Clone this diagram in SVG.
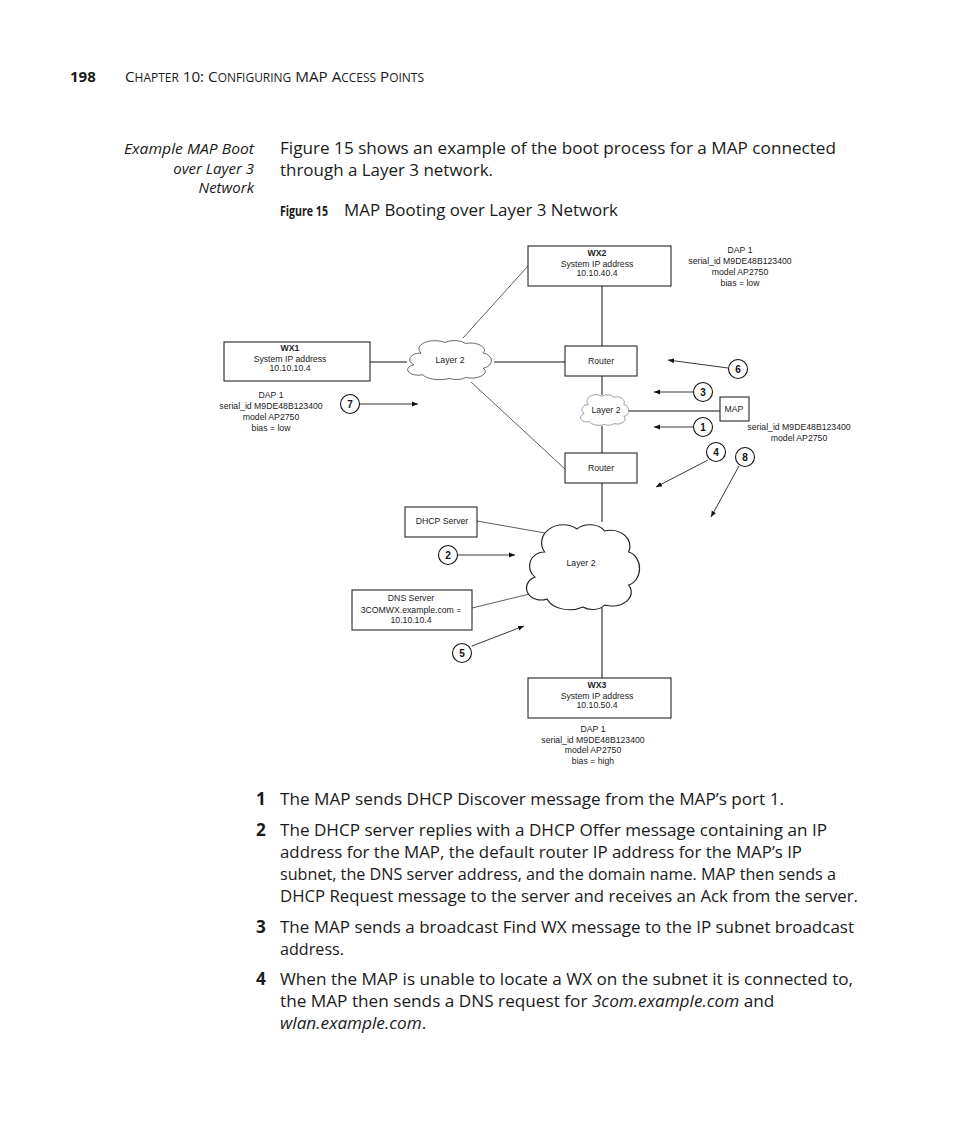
<svg xmlns="http://www.w3.org/2000/svg" width="954" height="1145" viewBox="0 0 954 1145">
<style>
.pg{font-family:"Open Sans","Noto Sans",sans-serif;fill:#1a1a1a}
.body{font-size:17.2px}
.d{font-family:"Liberation Sans",Arial,sans-serif;font-size:8.7px;fill:#222;text-anchor:middle}
.b{font-weight:bold}
.box{fill:#fff;stroke:#111;stroke-width:1}
.ln{stroke:#111;stroke-width:1;fill:none}
.ln2{stroke:#333;stroke-width:0.8;fill:none}
.cloud{fill:#fff;stroke:#222;stroke-width:1}
.circ{fill:#fff;stroke:#111;stroke-width:1.1}
.num{font-family:"Liberation Sans",Arial,sans-serif;font-size:10px;font-weight:bold;text-anchor:middle;fill:#111}
.arr{stroke:#222;stroke-width:0.9;fill:none;marker-end:url(#ah)}
</style>
<defs>
<marker id="ah" viewBox="0 0 10 10" refX="10" refY="5" markerWidth="6" markerHeight="6" orient="auto" markerUnits="userSpaceOnUse"><path d="M0,1 L10,5 L0,9 z" fill="#111"/></marker>
<path id="cl" d="M10,60 A12,14 0 0 1 18,35 A18,18 0 0 1 45,12 A14,12 0 0 1 68,14 A16,16 0 0 1 88,35 A12,17 0 0 1 88,68 A16,14 0 0 1 68,88 A12,10 0 0 1 50,90 A20,16 0 0 1 20,82 A12,12 0 0 1 10,60 Z"/>
</defs>
<rect width="954" height="1145" fill="#fff"/>

<g id="header">
<text class="pg b" x="70" y="82" font-size="15">198</text>
<text class="pg" x="125" y="82" font-size="15" textLength="299" lengthAdjust="spacingAndGlyphs">C<tspan font-size="11.8">HAPTER</tspan> 10: C<tspan font-size="11.8">ONFIGURING</tspan> MAP A<tspan font-size="11.8">CCESS</tspan> P<tspan font-size="11.8">OINTS</tspan></text>
</g>

<g id="sidehead" font-style="italic" text-anchor="end">
<text class="pg" x="254" y="154" font-size="15" textLength="130" lengthAdjust="spacingAndGlyphs">Example MAP Boot</text>
<text class="pg" x="254" y="174" font-size="15">over Layer 3</text>
<text class="pg" x="254" y="193" font-size="15">Network</text>
</g>

<g id="intro">
<text class="pg body" x="280" y="154" textLength="556" lengthAdjust="spacingAndGlyphs">Figure 15 shows an example of the boot process for a MAP connected</text>
<text class="pg body" x="280" y="176" textLength="213" lengthAdjust="spacingAndGlyphs">through a Layer 3 network.</text>
<text class="pg b" x="280" y="216" font-size="14" textLength="48" lengthAdjust="spacingAndGlyphs">Figure 15</text>
<text class="pg" x="344" y="216" font-size="15.5" textLength="274" lengthAdjust="spacingAndGlyphs">MAP Booting over Layer 3 Network</text>
</g>

<g id="connectors">
<line class="ln" x1="370" y1="362" x2="407" y2="362"/>
<line class="ln" x1="494" y1="362" x2="565" y2="362"/>
<line class="ln2" x1="463" y1="338" x2="528" y2="266"/>
<line class="ln" x1="602" y1="286" x2="602" y2="346"/>
<line class="ln" x1="602" y1="376" x2="602" y2="395"/>
<line class="ln" x1="629" y1="411" x2="720" y2="411"/>
<line class="ln" x1="602" y1="426" x2="602" y2="453"/>
<line class="ln2" x1="471" y1="382" x2="565" y2="469"/>
<line class="ln" x1="602" y1="483" x2="602" y2="522"/>
<line class="ln" x1="602" y1="605" x2="602" y2="678"/>
<line class="ln2" x1="477" y1="521" x2="545" y2="533"/>
<line class="ln2" x1="472" y1="608" x2="542" y2="591"/>
<line class="arr" x1="360" y1="404" x2="418" y2="404"/>
<line class="arr" x1="728" y1="368" x2="668" y2="360"/>
<line class="arr" x1="693" y1="392" x2="654" y2="392"/>
<line class="arr" x1="693" y1="427" x2="654" y2="427"/>
<line class="arr" x1="708" y1="460" x2="656" y2="487"/>
<line class="arr" x1="739" y1="466" x2="711" y2="517"/>
<line class="arr" x1="458" y1="555" x2="515" y2="555"/>
<line class="arr" x1="472" y1="646" x2="524" y2="626"/>
</g>

<g id="wx2">
<rect class="box" x="528" y="246" width="143" height="40"/>
<text class="d b" x="597" y="256">WX2</text>
<text class="d" x="597" y="267">System IP address</text>
<text class="d" x="597" y="276">10.10.40.4</text>
</g>
<g id="dap-wx2">
<text class="d" x="740" y="253">DAP 1</text>
<text class="d" x="740" y="264">serial_id M9DE48B123400</text>
<text class="d" x="740" y="275">model AP2750</text>
<text class="d" x="740" y="286">bias = low</text>
</g>

<g id="wx1">
<rect class="box" x="224" y="342" width="146" height="39"/>
<text class="d b" x="290" y="351">WX1</text>
<text class="d" x="290" y="362">System IP address</text>
<text class="d" x="290" y="371">10.10.10.4</text>
</g>
<g id="dap-wx1">
<text class="d" x="271" y="398">DAP 1</text>
<text class="d" x="271" y="409">serial_id M9DE48B123400</text>
<text class="d" x="271" y="420">model AP2750</text>
<text class="d" x="271" y="431">bias = low</text>
</g>

<g id="cloud-top">
<use href="#cl" class="cloud" vector-effect="non-scaling-stroke" transform="translate(405,337) scale(0.89,0.46)"/>
<text class="d" x="450" y="363">Layer 2</text>
</g>

<g id="router1">
<rect class="box" x="565" y="346" width="72" height="30"/>
<text class="d" x="601" y="364">Router</text>
</g>

<g id="cloud-small">
<use href="#cl" class="cloud" vector-effect="non-scaling-stroke" transform="translate(579,392) scale(0.51,0.36)"/>
<text class="d" x="606" y="413">Layer 2</text>
</g>

<g id="map">
<rect class="box" x="720" y="397" width="29" height="24"/>
<text class="d" x="734" y="412">MAP</text>
<text class="d" x="799" y="430">serial_id M9DE48B123400</text>
<text class="d" x="799" y="441">model AP2750</text>
</g>

<g id="router2">
<rect class="box" x="565" y="453" width="72" height="30"/>
<text class="d" x="601" y="471">Router</text>
</g>

<g id="cloud-big">
<use href="#cl" class="cloud" vector-effect="non-scaling-stroke" transform="translate(523,517) scale(1.2,1.0)"/>
<text class="d" x="581" y="566">Layer 2</text>
</g>

<g id="dhcp">
<rect class="box" x="405" y="507" width="72" height="30"/>
<text class="d" x="442" y="524">DHCP Server</text>
</g>

<g id="dns">
<rect class="box" x="352" y="590" width="120" height="40"/>
<text class="d" x="411" y="601">DNS Server</text>
<text class="d" x="411" y="613">3COMWX.example.com =</text>
<text class="d" x="411" y="623">10.10.10.4</text>
</g>

<g id="wx3">
<rect class="box" x="528" y="678" width="143" height="40"/>
<text class="d b" x="597" y="688">WX3</text>
<text class="d" x="597" y="699">System IP address</text>
<text class="d" x="597" y="708">10.10.50.4</text>
</g>
<g id="dap-wx3">
<text class="d" x="593" y="732">DAP 1</text>
<text class="d" x="593" y="743">serial_id M9DE48B123400</text>
<text class="d" x="593" y="753">model AP2750</text>
<text class="d" x="593" y="764">bias = high</text>
</g>

<g id="step7"><circle class="circ" cx="350" cy="404" r="9.5"/><text class="num" x="350" y="408">7</text></g>
<g id="step6"><circle class="circ" cx="738" cy="369" r="9.5"/><text class="num" x="738" y="373">6</text></g>
<g id="step3"><circle class="circ" cx="703" cy="392" r="9.5"/><text class="num" x="703" y="396">3</text></g>
<g id="step1"><circle class="circ" cx="703" cy="427" r="9.5"/><text class="num" x="703" y="431">1</text></g>
<g id="step4"><circle class="circ" cx="716" cy="452" r="9.5"/><text class="num" x="716" y="456">4</text></g>
<g id="step8"><circle class="circ" cx="745" cy="457" r="9.5"/><text class="num" x="745" y="461">8</text></g>
<g id="step2"><circle class="circ" cx="448" cy="555" r="9.5"/><text class="num" x="448" y="559">2</text></g>
<g id="step5"><circle class="circ" cx="462" cy="653" r="9.5"/><text class="num" x="462" y="657">5</text></g>

<g id="steps">
<text class="pg body b" x="256" y="805">1</text>
<text class="pg body" x="280" y="805" textLength="504" lengthAdjust="spacingAndGlyphs">The MAP sends DHCP Discover message from the MAP’s port 1.</text>
<text class="pg body b" x="256" y="836">2</text>
<text class="pg body" x="280" y="836" textLength="547" lengthAdjust="spacingAndGlyphs">The DHCP server replies with a DHCP Offer message containing an IP</text>
<text class="pg body" x="280" y="858" textLength="522" lengthAdjust="spacingAndGlyphs">address for the MAP, the default router IP address for the MAP’s IP</text>
<text class="pg body" x="280" y="880" textLength="556" lengthAdjust="spacingAndGlyphs">subnet, the DNS server address, and the domain name. MAP then sends a</text>
<text class="pg body" x="280" y="902" textLength="578" lengthAdjust="spacingAndGlyphs">DHCP Request message to the server and receives an Ack from the server.</text>
<text class="pg body b" x="256" y="933">3</text>
<text class="pg body" x="280" y="933" textLength="574" lengthAdjust="spacingAndGlyphs">The MAP sends a broadcast Find WX message to the IP subnet broadcast</text>
<text class="pg body" x="280" y="955" textLength="64" lengthAdjust="spacingAndGlyphs">address.</text>
<text class="pg body b" x="256" y="985">4</text>
<text class="pg body" x="280" y="985" textLength="573" lengthAdjust="spacingAndGlyphs">When the MAP is unable to locate a WX on the subnet it is connected to,</text>
<text class="pg body" x="280" y="1007">the MAP then sends a DNS request for <tspan font-style="italic">3com.example.com</tspan> and</text>
<text class="pg body" x="280" y="1029"><tspan font-style="italic">wlan.example.com</tspan>.</text>
</g>
</svg>
